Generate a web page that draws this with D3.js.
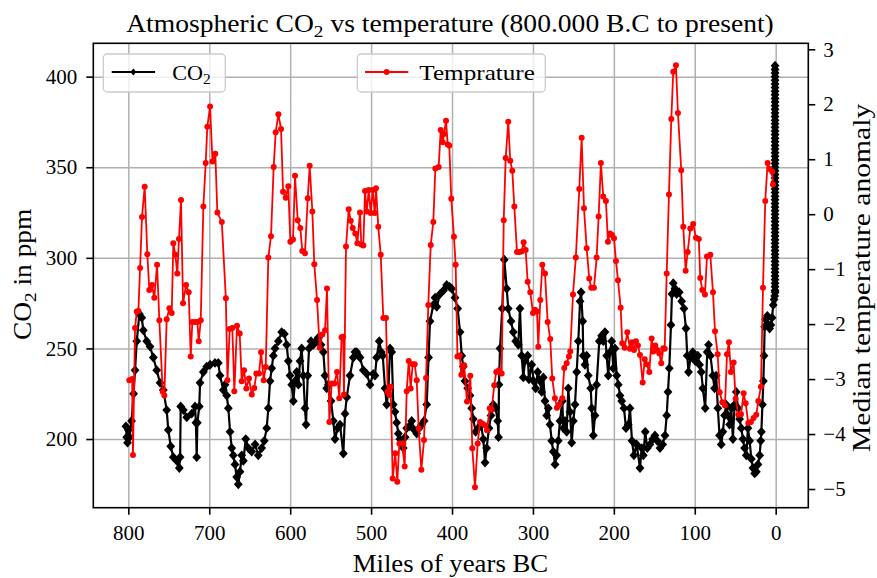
<!DOCTYPE html>
<html><head><meta charset="utf-8">
<script src="https://cdn.jsdelivr.net/npm/d3@7"></script>
<style>html,body{margin:0;padding:0;background:#fff;} text{font-family:"Liberation Serif","Times New Roman",serif;fill:#000;}</style>
</head><body><svg id="c" width="877" height="578"></svg>
<script>
// ---- data (kyr BP, ppm) ----
const co2Series = [
[803,207],[802,201],[801,198],[800,205],[798.5,201],[796,210],[793.5,225],[791.7,238],[789.6,254],[786.4,269],[783.4,267],[781.5,260],[777.3,254],[773.2,251],[769.1,245],[764.9,238],[760.8,231],[756.8,227],[752.6,216],[750.6,205],[747.6,196],[744.4,190],[740.2,188],[737,184],[736,190],[735.3,218],[732,216],[727.8,212],[721.7,214],[717.6,218],[716.5,209],[715.5,190],[714.7,209],[712.3,218],[711.4,231],[707.3,237],[703.1,240],[699,241],[692.9,242],[688.8,242],[686.7,235],[682.6,227],
[680.5,230],[678.4,224],[676.4,217],[674.3,204],[672.2,195],[670.3,191],[668.2,186],[666.1,179],[664.1,175],[662,182],[659.9,191],[657.9,188],[654.9,200],[651.7,195],[647.5,193],[643.4,197],[639.4,191],[635.2,195],[632,199],[629,206],[627,217],[624.9,232],[622.8,239],[620.8,246],[618.7,250],[614.6,254],[610.5,259],[607.2,258],[604.3,252],[602.3,243],[600.2,235],[598.1,230],[596.1,221],[594,232],[591.9,237],[589.9,230],[587.8,243],[585.8,250],[583.8,235],[581.7,217],[580.4,208],[578.3,235],[576.7,250],[574.3,254],[571.4,252],[568.5,254],[565.2,256],[561.9,252],[559,248],[557,235],[554.9,228],[552.9,230],[549.5,221],[546.7,210],[544.6,200],[541.3,206],[538.4,208],
[534.3,192],[532.2,214],[530.1,223],[526.1,235],[521.9,245],[519.9,248],[517.8,248],[515.8,246],[513.7,245],[509.6,238],[505.4,236],[501.3,230],[497.3,236],[495.2,235],[493.1,245],[489.9,254],[487.5,248],[485.6,246],[482.8,228],[480.7,219],[478.5,228],[476.6,250],[474.5,248],[472.6,219],[470.5,215],[468.4,209],[466.3,203],[464.3,200],[462.2,197],[460.2,195],[458,201],[456,206],[453,207],[449.8,210],[446.7,205],[443.6,203],[440.6,206],[437.5,208],[434.5,210],[431.3,219],[429,245],[427.2,265],[423.1,274],[421,278],[418.9,273],[414.8,280],[410.5,282],[406.6,285],[403,284],[400.4,283],[396.3,278],[393,272],
[390.1,259],[388,246],[386.1,240],[384,232],[380.6,228],[377.8,224],[375.7,217],[373.7,211],[370.8,204],[367.5,206],[364.2,208],[361.3,200],[359.2,187],[357.2,195],[354.3,206],[351.8,213],[349,219],[346,217],[343.6,210],[342.5,201],[342,230],[340.7,250],[337.9,272],[335.4,299],[332.4,283],[330.5,272],[327.1,265],[324.3,259],[321.3,254],[318.1,252],[316,272],[313.9,246],[311.9,234],[309.8,243],[306.5,246],[304.9,233],[301.5,241],[299.1,232],[296.6,228],[294.1,237],[291.3,232],[289.2,226],[287.2,234],[285.1,221],[283,213],[281,217],[278.9,208],[276.8,199],[274.8,193],[272.7,186],[270.6,191],[268.7,199],[266.6,210],[263.7,221],[262.5,206],[260.4,210],[258.3,204],[256.3,228],[254.2,215],[252.1,198],[250.1,210],[248,219],
[245.9,237],[243.9,254],[241.8,276],[240.5,281],[238.5,265],[237.8,246],[235.7,241],[233.6,246],[231.6,235],[228.6,228],[227.4,217],[225.4,202],[223.3,213],[221.3,230],[218,254],[215.1,257],[213.1,254],[211,259],[208.9,246],[206.9,235],[204.8,248],[202.7,254],[200.7,239],[198.6,250],[196.5,235],[194.5,230],[192.4,224],[190.3,221],[187.5,217],[185,206],[182.2,208],[180.1,217],[177.6,199],[175.2,191],[171.8,197],[167.7,184],[165.6,195],[163.6,191],[161.2,204],[158.7,195],[155.4,197],[152,200],[149.2,202],[146.4,199],[143,195],[139.7,197],[136.8,202],[134.7,213],[133.1,226],[131.5,239],[129.4,263],[128.2,280],[126.6,286],[124.5,283],[122.4,280],[119.2,281],[116.2,276],[113.4,272],[110.9,261],
[109.3,246],[107.7,237],[105.2,245],[102.4,248],[99.4,243],[96.2,246],[94.1,241],[92,237],[90,228],[87.1,217],[84.6,248],[83,252],[80.6,246],[77.7,235],[75.6,228],[73.5,235],[71.5,217],[69.4,202],[67.3,197],[65.3,204],[63.2,213],[61.1,219],[59.1,213],[57,208],[54.9,217],[52.9,200],[50.8,219],[48.7,226],[46.7,217],[44.6,211],[42.5,206],[40.5,200],[38.4,195],[36.3,191],[34.3,206],[32.2,199],[30.1,189],[28.1,184],[26,181],[23.9,182],[21.9,186],[19.8,191],[18.5,199],[17.7,204],[16.4,219],[15.2,232],[14.4,246],[13.6,262],[12.4,266],[10.3,268],[9,263],[7.5,261],[6,263],[4.5,267],[3,274],[2,277],[1.2,279],[0.7,281],
[0.8,282],[0.8,284],[0.8,286],[0.8,288],[0.8,290],[0.8,292],[0.8,294],[0.8,296],[0.8,298],[0.8,300],[0.8,302],[0.8,304],[0.8,306],[0.8,308],[0.8,310],[0.8,312],[0.8,314],[0.8,316],[0.8,318],[0.8,320],[0.8,322],[0.8,324],[0.8,326],[0.8,328],[0.8,330],[0.8,332],[0.8,334],[0.8,336],[0.8,338],[0.8,340],[0.8,342],[0.8,344],[0.8,346],[0.8,348],[0.8,350],[0.8,352],[0.8,354],[0.8,356],[0.8,358],[0.8,360],[0.8,362],[0.8,364],[0.8,366],[0.8,368],[0.8,370],[0.8,372],[0.8,374],[0.8,376],[0.8,378],[0.8,380],[0.8,382],[0.8,384],[0.8,386],[0.8,388],[0.8,390],[0.8,392],[0.8,394],[0.8,396],[0.8,398],[0.8,400],[0.8,402],[0.8,404],[0.8,406]
];
// (kyr BP, anomaly °C)
const tempSeries = [
[798.8,-3.02],[795.3,-3.00],[794.3,-4.38],[791.7,-2.07],[789.6,-1.77],[787.6,-1.76],[785.5,-0.98],[783.1,-0.05],[779.8,0.50],[776.5,-0.73],[774.1,-1.38],[770.8,-1.29],[767.9,-1.52],[764.5,-0.92],[761.7,-1.93],[757.5,-3.23],[755.5,-3.30],[752.6,-1.91],[749.3,-1.71],[746.4,-1.80],[744.4,-0.53],[741.9,-0.74],[739.5,-1.08],[737.4,-0.45],[734.9,0.26],[732.4,-1.62],[728.7,-1.29],[725.4,-1.42],[722.9,-2.59],[720.9,-1.96],[717.6,-1.96],[714.7,-1.96],[713,-2.31],[710.5,-1.93],[707.3,0.14],[704.4,0.93],[702.4,1.59],[699,1.96],[696,0.96],[692.5,1.10],[690,0.03],[684.5,-0.14],[679.5,-1.53],[677.5,-3.02],[674.7,-2.09],[671.5,-2.07],[669,-3.22],[665.7,-2.03],[662.4,-2.17],[659.9,-3.04],[657,-2.84],[654.2,-3.17],[650.9,-2.99],[647.5,-3.28],[644.3,-3.16],[641.8,-2.90],[638.5,-2.90],[636,-2.51],[632.7,-3.02],[630.2,-2.78],[627,-0.79],[623.7,-0.40],[620.4,0.86],[617.9,1.49],[614.6,1.82],[611.3,1.55],[608.8,0.41],[605.5,0.30],[602.3,0.51],[599.8,-0.50],[596.5,-0.46],[594,0.70],[590.7,-0.11],[587.5,-0.25],[585,-0.67],[581.7,-0.71],[578.3,0.29],[575.9,0.88],[572.6,0.05],[570.2,-0.91],[566.8,-1.56],[563.5,-2.43],[560.3,-2.19],[556.9,-2.11],[554.5,-1.35],[551.6,-3.78],[548.7,-3.08],[545.5,-3.08],[542.1,-2.87],[539.3,-3.35],[536.5,-2.24],[534.5,-2.23],[533.5,-3.28],[531,-0.59],[527.7,0.09],[525.2,-0.12],[522.7,-0.25],[519.5,-0.35],[517,-0.53],[513.7,0.03],[512.1,-0.55],[509.6,-0.57],[507.5,0.42],[505.4,0.05],[502.9,0.44],[500.5,0.02],[498,0.44],[495.5,0.02],[493.9,0.47],[491.1,-0.23],[488.1,-0.74],[484.9,-1.89],[481.6,-1.89],[479.5,-3.23],[477.5,-3.29],[475.8,-3.14],[473.3,-4.81],[470.1,-4.35],[467.6,-4.87],[465.1,-4.17],[461.8,-4.17],[458.5,-4.59],[456,-3.22],[453.5,-2.67],[451.1,-3.17],[448.6,-2.73],[446.1,-2.73],[443.6,-3.02],[441.2,-3.90],[437.9,-4.65],[434.6,-4.11],[432.1,-2.98],[429.3,-1.65],[426.3,-0.56],[423.1,-0.14],[420.6,0.83],[416.5,0.86],[414,1.53],[411.5,1.31],[409.9,1.46],[407.4,1.70],[405.3,1.27],[403.4,1.25],[400.9,0.28],[397.6,-0.41],[395.5,-0.92],[393.3,-2.59],[390.5,-2.57],[388.5,-2.92],[385,-2.75],[381.5,-3.41],[377.4,-2.94],[374.9,-4.26],[371.6,-4.97],[368.3,-4.17],[365.4,-3.78],[362.6,-3.81],[359.2,-3.84],[356.8,-3.93],[353.4,-3.53],[351,-3.56],[347.8,-3.11],[345.3,-2.87],[342,-2.84],[338.6,-2.90],[336.1,-0.11],[333.7,1.02],[330.5,1.68],[328,0.97],[325.5,0.79],[323,0.14],[319.7,-0.69],[316.9,-0.69],[314,-0.68],[311.5,-0.51],[309,-0.65],[306.5,-1.23],[303.3,-1.42],[299.9,-1.80],[297.5,-1.74],[295,-1.77],[293.4,-2.41],[290.9,-1.56],[288.4,-0.92],[285.1,-1.08],[281.8,-1.96],[278.6,-2.27],[276.1,-2.99],[272.8,-3.35],[270.3,-3.52],[267,-3.46],[263.7,-3.35],[261.3,-2.80],[258.3,-2.71],[255.5,-2.59],[253.9,-2.50],[250.5,-1.46],[247,-0.79],[242.7,0.46],[239.8,1.39],[236.9,0.11],[233.6,-0.62],[230.4,-1.17],[227.9,-1.34],[224.6,-1.34],[221.3,-0.79],[218.8,-0.04],[216,0.93],[213.1,0.32],[209.8,0.24],[207.3,-0.50],[204.8,-0.35],[202.3,-0.38],[199.8,-0.44],[197.4,-0.85],[194.9,-1.20],[191.6,-1.70],[189.6,-2.35],[186.6,-2.43],[183.4,-2.15],[180.1,-2.45],[177.6,-2.33],[175.1,-2.47],[172.7,-2.31],[170.2,-2.39],[167.7,-2.56],[164.4,-3.06],[161.9,-2.64],[159.5,-2.73],[156.2,-2.87],[153.3,-2.26],[151.3,-2.50],[148.8,-2.39],[146.4,-2.47],[143.9,-2.53],[141.4,-2.71],[138.9,-2.44],[137.2,-2.45],[134.7,-1.08],[131.9,0.36],[129,1.73],[126.6,2.59],[123.3,2.71],[120.8,1.84],[116.7,0.80],[114.2,-0.23],[111.3,-1.03],[108.8,-0.69],[105.5,-0.26],[102,-0.18],[98.5,-0.43],[95,-0.45],[93.2,-1.16],[90.7,-1.38],[87.4,-1.46],[84.9,-0.77],[80.8,-0.74],[77.5,-1.42],[75,-2.13],[71.7,-2.55],[69.2,-3.24],[66,-3.42],[62.7,-3.48],[60.2,-2.55],[57.8,-2.33],[55.3,-2.87],[52,-2.70],[49.5,-3.36],[46.2,-3.65],[42.9,-3.64],[39.6,-3.26],[37.1,-3.44],[33.9,-3.80],[30.6,-3.78],[27.3,-3.71],[24,-3.65],[21.5,-3.40],[18.2,-3.14],[15.7,-1.34],[12.9,0.24],[10,0.93],[7.5,0.82],[4.3,0.77],[3.4,0.54]
];
const xTicks = [800,700,600,500,400,300,200,100,0];
const co2Ticks = [200,250,300,350,400];
const tempTicks = [-5,-4,-3,-2,-1,0,1,2,3];
const legendLabels = ["CO", "Temprature"];

// ---- layout ----
const L=93.3, R=808.3, T=43.3, B=507.7;
const svg = d3.select('#c');
const x  = d3.scaleLinear().domain([843.3,-40.3]).range([L,R]);
const yL = d3.scaleLinear().domain([162.1,418.4]).range([B,T]);
const yR = d3.scaleLinear().domain([-5.340,3.109]).range([B,T]);
const GRID='#b0b0b0';

// grid
const gg = svg.append('g');
gg.append('g').attr('transform',`translate(0,${B})`)
  .call(d3.axisBottom(x).tickValues(xTicks).tickSize(-(B-T)).tickFormat(''))
  .call(g=>{g.select('.domain').remove(); g.selectAll('line').attr('stroke',GRID).attr('stroke-width',1.5);});
gg.append('g').attr('transform',`translate(${L},0)`)
  .call(d3.axisLeft(yL).tickValues(co2Ticks).tickSize(-(R-L)).tickFormat(''))
  .call(g=>{g.select('.domain').remove(); g.selectAll('line').attr('stroke',GRID).attr('stroke-width',1.5);});

const diamond = (rx, ry) => `M0,${-ry}L${rx},0L0,${ry}L${-rx},0Z`;

// CO2
svg.append('path').datum(co2Series)
  .attr('d', d3.line().x(d=>x(d[0])).y(d=>yL(d[1])))
  .attr('fill','none').attr('stroke','#000').attr('stroke-width',2.2).attr('stroke-linejoin','round');
svg.append('g').selectAll('path').data(co2Series).join('path')
  .attr('d', diamond(4.4, 4.9))
  .attr('transform', d=>`translate(${x(d[0])},${yL(d[1])})`)
  .attr('fill','#000');

// temperature
svg.append('path').datum(tempSeries)
  .attr('d', d3.line().x(d=>x(d[0])).y(d=>yR(d[1])))
  .attr('fill','none').attr('stroke','#ff0000').attr('stroke-width',1.8).attr('stroke-linejoin','round');
svg.append('g').selectAll('circle').data(tempSeries).join('circle')
  .attr('cx', d=>x(d[0])).attr('cy', d=>yR(d[1])).attr('r',3).attr('fill','#ff0000');

// spines
svg.append('rect').attr('x',L).attr('y',T).attr('width',R-L).attr('height',B-T)
  .attr('fill','none').attr('stroke','#000').attr('stroke-width',1.6);

function styleAxis(g){
  g.select('.domain').remove();
  g.selectAll('line').attr('stroke','#000').attr('stroke-width',1.6);
  g.selectAll('text').attr('font-size',21).attr('font-family','"Liberation Serif",serif').attr('fill','#000');
}
svg.append('g').attr('transform',`translate(0,${B})`)
  .call(d3.axisBottom(x).tickValues(xTicks).tickSize(7).tickPadding(10.5)).call(styleAxis);
svg.append('g').attr('transform',`translate(${L},0)`)
  .call(d3.axisLeft(yL).tickValues(co2Ticks).tickSize(7).tickPadding(9)).call(styleAxis);
svg.append('g').attr('transform',`translate(${R},0)`)
  .call(d3.axisRight(yR).tickValues(tempTicks).tickSize(7).tickPadding(8)).call(styleAxis);

// text helper: fit width
function fit(t, width, prefix){
  const bb = t.node().getBBox();
  const k = width / bb.width;
  t.attr('transform', `${prefix} scale(${k},1) translate(${-bb.x - bb.width/2},0)`);
}
function addSubText(parent, parts, size){
  const t = parent.append('text').attr('x',0).attr('y',0).attr('font-size',size);
  parts.forEach(p=>{
    const s = t.append('tspan').text(p.t);
    if(p.sub){ s.attr('font-size',size*0.7).attr('dy',size*0.2); }
    else if(p.back){ s.attr('dy',-size*0.2); }
  });
  return t;
}
// title
fit(addSubText(svg,[{t:'Atmospheric CO'},{t:'2',sub:1},{t:' vs temperature (800.000 B.C to present)',back:1}],25), 648, 'translate(450.2,31.7)');
// x label
fit(svg.append('text').attr('font-size',25).text('Miles of years BC'), 195.6, 'translate(450.5,571.5)');
// left y label
fit(addSubText(svg,[{t:'CO'},{t:'2',sub:1},{t:' in ppm',back:1}],25), 132, 'translate(31,274) rotate(-90)');
// right y label
fit(svg.append('text').attr('font-size',25).text('Median temperature anomaly'), 349, 'translate(870,277.5) rotate(-90)');

// legends
function legend(x0, w, lx0, lx1, tx, tw, color, marker, parts){
  const g = svg.append('g');
  g.append('rect').attr('x',x0).attr('y',54).attr('width',w).attr('height',38).attr('rx',4)
    .attr('fill','#fff').attr('fill-opacity',0.8).attr('stroke','#cccccc').attr('stroke-width',1.3);
  g.append('line').attr('x1',lx0).attr('x2',lx1).attr('y1',72).attr('y2',72).attr('stroke',color).attr('stroke-width',1.8);
  const mx=(lx0+lx1)/2;
  if(marker==='D') g.append('path').attr('d',diamond(3,3.4)).attr('transform',`translate(${mx},72)`).attr('fill',color);
  else g.append('circle').attr('cx',mx).attr('cy',72).attr('r',2.9).attr('fill',color);
  const t = addSubText(g, parts, 21);
  fit(t, tw, `translate(${tx+tw/2},80)`);
}
legend(103.3,122,111.7,155,172.3,38.4,'#000','D',[{t:legendLabels[0]},{t:'2',sub:1}]);
legend(357.3,188,365,408.3,419.3,115.7,'#ff0000','o',[{t:legendLabels[1]}]);
</script>
</body></html>
